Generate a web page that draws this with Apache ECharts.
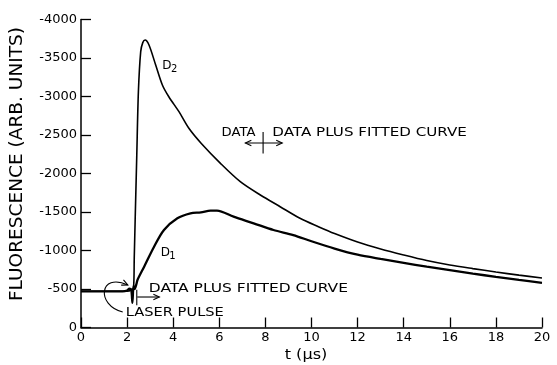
<!DOCTYPE html>
<html>
<head>
<meta charset="utf-8">
<script src="https://cdn.jsdelivr.net/npm/echarts@6/dist/echarts.min.js"></script>
<style>
	body{margin:0;background:#fff;}
	#fluoChart{width:557px;height:365px;}
</style>
</head>
<body>
<div id="fluoChart"></div>
<script>
	// 读图所得数据 t(μs) / 荧光强度
	const xTicks = [0, 2, 4, 6, 8, 10, 12, 14, 16, 18, 20]
	const yTicks = [0, 500, 1000, 1500, 2000, 2500, 3000, 3500, 4000]

	// D1 : data plus fitted curve
	const d1Time = [0, 1.8, 2.0, 2.1, 2.18, 2.23, 2.28, 2.33, 2.4, 2.45, 2.74, 3.17, 3.6, 4.18, 4.75, 5.2, 5.62, 5.9, 6.62, 7.49, 8.35, 9.21, 10, 11, 12, 13, 14, 15, 16, 17, 18, 19, 20]
	const d1Value = [470, 470, 480, 505, 490, 320, 540, 500, 560, 617, 790, 1049, 1266, 1418, 1483, 1495, 1517, 1518, 1439, 1353, 1266, 1201, 1120, 1025, 945, 890, 840, 790, 745, 700, 658, 618, 580]

	// D2
	const d2Time = [0, 2.0, 2.2, 2.28, 2.31, 2.35, 2.42, 2.49, 2.59, 2.68, 2.78, 2.95, 3.24, 3.53, 3.81, 4.25, 4.68, 5.22, 6.05, 6.91, 7.78, 8.64, 9.5, 10.3, 11, 12, 13, 14, 15, 16, 17, 18, 19, 20]
	const d2Value = [470, 470, 490, 520, 900, 1400, 2240, 3062, 3582, 3700, 3734, 3669, 3409, 3150, 2997, 2803, 2587, 2390, 2132, 1894, 1721, 1569, 1418, 1309, 1220, 1110, 1020, 942, 870, 812, 765, 721, 680, 643]

	const fontName = 'DejaVu Sans'
	const zip = (a, b) => a.map((v, i) => [v, b[i]])

	const myChart = echarts.init(document.getElementById('fluoChart'))
	const chartOption = {
		backgroundColor: '#fff',
		animation: false,
		grid: {left: 81, right: 15, top: 19.5, bottom: 37.5},
		xAxis: {
			type: 'value',
			min: xTicks[0],
			max: xTicks[xTicks.length - 1],
			interval: 2,
			axisLine: {lineStyle: {color: '#000', width: 1.5}},
			axisTick: {inside: true, length: 10, lineStyle: {color: '#000', width: 1.3}},
			axisLabel: {color: '#000', fontFamily: fontName, fontSize: 13, margin: 4},
			splitLine: {show: false}
		},
		yAxis: {
			type: 'value',
			min: yTicks[0],
			max: yTicks[yTicks.length - 1],
			interval: 500,
			axisLine: {show: true, lineStyle: {color: '#000', width: 1.5}},
			axisTick: {show: true, inside: true, length: 10, lineStyle: {color: '#000', width: 1.3}},
			axisLabel: {
				color: '#000', fontFamily: fontName, fontSize: 13, margin: 4,
				padding: [0, 0, 8, 0],
				formatter: function(value){
					return value === 0 ? '0' : '-' + value
				}
			},
			splitLine: {show: false}
		},
		series: [{
			name: 'D2',
			type: 'line',
			data: zip(d2Time, d2Value),
			showSymbol: false,
			smooth: 0.3,
			lineStyle: {color: '#000', width: 1.6}
		}, {
			name: 'D1',
			type: 'line',
			data: zip(d1Time, d1Value),
			showSymbol: false,
			smooth: 0.3,
			lineStyle: {color: '#000', width: 2.3}
		}]
	}
	myChart.setOption(chartOption)

	// 注释 (数据坐标 -> 像素)
	const px = (t, v) => myChart.convertToPixel({gridIndex: 0}, [t, v])
	const txt = (t, v, s, size, sx) => {
		const p = px(t, v)
		return {type: 'text', x: p[0], y: p[1], scaleX: sx || 1, style: {text: s, fill: '#000', font: size + 'px "' + fontName + '"', align: 'left', verticalAlign: 'middle'}}
	}
	const seg = (a, b, w) => ({type: 'line', shape: {x1: a[0], y1: a[1], x2: b[0], y2: b[1]}, style: {stroke: '#000', lineWidth: w || 1.1}})
	const head = (tip, dx, dy) => {
		const l = Math.sqrt(dx * dx + dy * dy), ux = dx / l, uy = dy / l
		return {type: 'polyline', shape: {points: [
			[tip[0] - ux * 6 - uy * 2.8, tip[1] - uy * 6 + ux * 2.8], tip,
			[tip[0] - ux * 6 + uy * 2.8, tip[1] - uy * 6 - ux * 2.8]
		]}, style: {stroke: '#000', lineWidth: 1.1, fill: null}}
	}

	const g = []
	g.push(txt(3.52, 3400, 'D', 12))
	g.push(txt(3.9, 3350, '2', 10))
	g.push(txt(3.46, 968, 'D', 12))
	g.push(txt(3.83, 918, '1', 10))
	g.push(txt(6.1, 2527, 'DATA', 12, 1.1))
	g.push(txt(8.3, 2527, 'DATA PLUS FITTED CURVE', 12, 1.26))
	// 双箭头和竖线
	let a1 = px(7.13, 2397), a2 = px(8.73, 2397)
	g.push(seg(a1, a2), head(a1, -1, 0), head(a2, 1, 0))
	g.push(seg(px(7.9, 2540), px(7.9, 2260)))
	// 下方注释
	g.push(txt(2.94, 500, 'DATA PLUS FITTED CURVE', 12, 1.29))
	g.push(seg(px(2.42, 490), px(2.42, 290)))
	let b1 = px(2.44, 396), b2 = px(3.4, 396)
	g.push(seg(b1, b2), head(b2, 1, 0))
	g.push(txt(1.94, 188, 'LASER PULSE', 12, 1.22))
	// laser pulse 弯箭头
	let c0 = px(1.81, 201), c1 = px(0.65, 290), c2 = px(0.78, 720), c3 = px(2.03, 552)
	g.push({type: 'bezierCurve', shape: {x1: c0[0], y1: c0[1], cpx1: c1[0], cpy1: c1[1], cpx2: c2[0], cpy2: c2[1], x2: c3[0], y2: c3[1]}, style: {stroke: '#000', lineWidth: 1.1, fill: null}})
	g.push(head(c3, c3[0] - c2[0], c3[1] - c2[1]))
	// 轴名
	g.push({type: 'text', x: 18, y: 164, rotation: Math.PI / 2, scaleX: 1.09, style: {text: 'FLUORESCENCE (ARB. UNITS)', fill: '#000', font: '17px "' + fontName + '"', align: 'center', verticalAlign: 'middle'}})
	g.push({type: 'text', x: 306, y: 355, scaleX: 1.15, style: {text: 't (μs)', fill: '#000', font: '14px "' + fontName + '"', align: 'center', verticalAlign: 'middle'}})
	myChart.setOption({graphic: g})
</script>
</body>
</html>
